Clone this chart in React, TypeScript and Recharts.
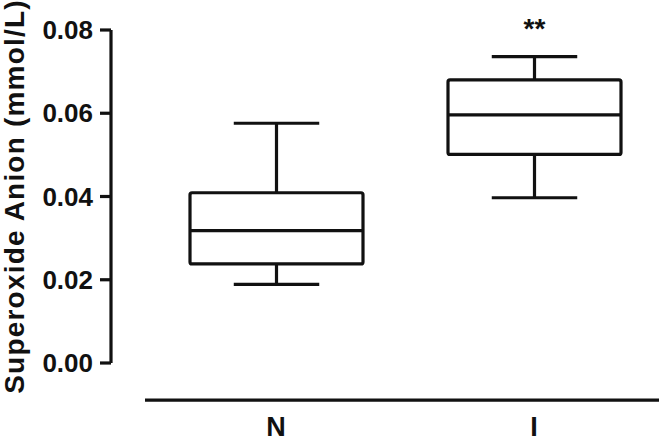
import React from "react";
import {
  ComposedChart,
  Bar,
  XAxis,
  YAxis,
  ReferenceLine,
  LabelList,
} from "recharts";

// groups and box statistics
const groups = ["N", "I"];
const mins = [0.0189, 0.0397];
const q1s = [0.0238, 0.0501];
const medians = [0.0318, 0.0596];
const q3s = [0.0409, 0.068];
const maxs = [0.0576, 0.0736];
const marks = ["", "**"];
const yTicks = [0, 0.02, 0.04, 0.06, 0.08];
const baselineValue = -0.0089; // where the detached x axis line sits

const data = groups.map((name, i) => ({
  name,
  min: mins[i],
  q1: q1s[i],
  median: medians[i],
  q3: q3s[i],
  max: maxs[i],
  range: [mins[i], maxs[i]],
  mark: marks[i],
}));

const INK = "#111";
const FONT = "'Liberation Sans', Arial, sans-serif";

const BoxShape = (props: any) => {
  const { x, y, width, height, payload } = props;
  const top = Math.min(y, y + height);
  const h = Math.abs(height);
  const span = payload.max - payload.min;
  const py = (v: number) => top + (h * (payload.max - v)) / span;
  const cx = x + width / 2;
  const capHalf = width * 0.247;
  const yMax = py(payload.max);
  const yQ3 = py(payload.q3);
  const yMed = py(payload.median);
  const yQ1 = py(payload.q1);
  const yMin = py(payload.min);
  return (
    <g stroke={INK} strokeWidth={3.2} fill="none" strokeLinecap="butt">
      <line x1={cx} y1={yMax} x2={cx} y2={yQ3} />
      <line x1={cx} y1={yQ1} x2={cx} y2={yMin} />
      <line x1={cx - capHalf} y1={yMax} x2={cx + capHalf} y2={yMax} />
      <line x1={cx - capHalf} y1={yMin} x2={cx + capHalf} y2={yMin} />
      <rect x={x} y={yQ3} width={width} height={yQ1 - yQ3} rx={2} fill="#fff" />
      <line x1={x} y1={yMed} x2={x + width} y2={yMed} />
    </g>
  );
};

const AxisBase = (props: any) => {
  const { x1, y1, x2, y2 } = props;
  return <line x1={x1 + 34} y1={y1} x2={x2} y2={y2} stroke={INK} strokeWidth={3.2} />;
};

const YLabel = (props: any) => {
  const { viewBox } = props;
  const cy = viewBox.y + viewBox.height / 2;
  const bx = 24;
  return (
    <text
      x={bx}
      y={cy}
      transform={`rotate(-90, ${bx}, ${cy})`}
      textAnchor="middle"
      fill={INK}
      fontFamily={FONT}
      fontWeight="bold"
      fontSize={28}
      letterSpacing={1.2}
    >
      Superoxide Anion (mmol/L)
    </text>
  );
};

export default function App() {
  return (
    <div style={{ position: "absolute", left: 0, top: 0, background: "#fff" }}>
      <ComposedChart
        width={668}
        height={442}
        data={data}
        margin={{ top: 30, right: 9, bottom: 0, left: 0 }}
      >
        <XAxis
          dataKey="name"
          height={79}
          axisLine={false}
          tickLine={false}
          tickSize={0}
          tickMargin={54}
          padding={{ left: 36, right: -4 }}
          tick={{ fill: INK, fontSize: 27, fontWeight: "bold", fontFamily: FONT }}
        />
        <YAxis
          type="number"
          domain={[0, 0.08]}
          ticks={yTicks}
          width={111}
          tickFormatter={(v: number) => v.toFixed(2)}
          axisLine={{ stroke: INK, strokeWidth: 3.2 }}
          tickLine={{ stroke: INK, strokeWidth: 3.2 }}
          tickSize={11}
          tickMargin={7}
          tick={{ fill: INK, fontSize: 26, fontWeight: "bold", fontFamily: FONT }}
          label={<YLabel />}
        />
        <ReferenceLine y={baselineValue} ifOverflow="visible" shape={<AxisBase />} />
        <Bar dataKey="range" barSize={173} shape={<BoxShape />} isAnimationActive={false}>
          <LabelList
            dataKey="mark"
            position="top"
            offset={19}
            fill={INK}
            fontSize={28}
            fontWeight="bold"
            fontFamily={FONT}
          />
        </Bar>
      </ComposedChart>
    </div>
  );
}
